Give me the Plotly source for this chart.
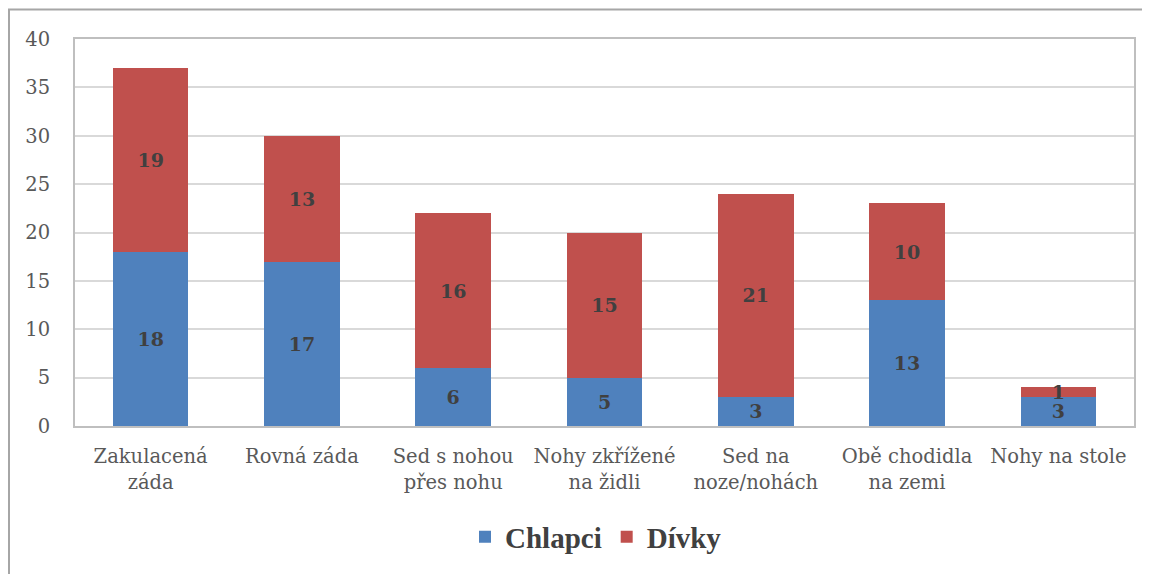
import plotly.graph_objects as go

categories = ["Zakulacená<br>záda", "Rovná záda", "Sed s nohou<br>přes nohu",
              "Nohy zkřížené<br>na židli", "Sed na<br>noze/nohách",
              "Obě chodidla<br>na zemi", "Nohy na stole"]
chlapci = [18, 17, 6, 5, 3, 13, 3]
divky = [19, 13, 16, 15, 21, 10, 1]
y_ticks = [0, 5, 10, 15, 20, 25, 30, 35, 40]

# page body has an 8px margin, so the figure is laid out in offset coordinates
OFF = 8
W, H = 1150 - OFF, 574 - OFF
BLUE = "#4F81BD"
RED = "#C0504D"
LABEL_FONT = dict(family="DejaVu Serif", size=19, color="#404040", weight="bold")

fig = go.Figure()
fig.add_trace(go.Bar(
    x=categories, y=chlapci, name="Chlapci", marker=dict(color=BLUE, line=dict(width=0)),
    text=[str(v) for v in chlapci], textposition="inside", insidetextanchor="middle",
    constraintext="none", textangle=0, textfont=LABEL_FONT, cliponaxis=False,
))
fig.add_trace(go.Bar(
    x=categories, y=divky, name="Dívky", marker=dict(color=RED, line=dict(width=0)),
    text=[str(v) for v in divky], textposition="inside", insidetextanchor="middle",
    constraintext="none", textangle=0, textfont=LABEL_FONT, cliponaxis=False,
))

def px(x):
    return (x - OFF) / W

def py(y):
    return 1 - (y - OFF) / H

fig.update_layout(
    width=W, height=H,
    margin=dict(l=0, r=0, t=0, b=0),
    barmode="stack", bargap=0.5,
    paper_bgcolor="white", plot_bgcolor="white",
    showlegend=True,
    legend=dict(orientation="h", x=px(596), xanchor="center", y=py(537), yanchor="middle",
                font=dict(family="Liberation Serif", size=29, color="#404040", weight="bold"),
                itemsizing="constant", traceorder="normal"),
    xaxis=dict(domain=[px(75), px(1134)], showline=True, linecolor="#BFBFBF", linewidth=2, mirror=True,
               ticks="", tickfont=dict(family="DejaVu Serif", size=19.5, color="#595959"),
               ticklabelstandoff=12, automargin=False, showgrid=False),
    yaxis=dict(domain=[py(426), py(39)], range=[0, 40], tickvals=y_ticks, showline=True,
               linecolor="#BFBFBF", linewidth=2, mirror=True, showgrid=True,
               gridcolor="#D9D9D9", gridwidth=2, zeroline=False, ticks="",
               tickfont=dict(family="DejaVu Serif", size=19.5, color="#595959"),
               ticklabelstandoff=19, automargin=False),
    shapes=[
        dict(type="line", xref="paper", yref="paper", x0=px(8), x1=1.0, y0=py(9.5), y1=py(9.5),
             line=dict(color="#A6A6A6", width=2)),
        dict(type="line", xref="paper", yref="paper", x0=px(9), x1=px(9), y0=0, y1=py(9),
             line=dict(color="#A6A6A6", width=2)),
    ],
)

fig.write_html("out.html")
